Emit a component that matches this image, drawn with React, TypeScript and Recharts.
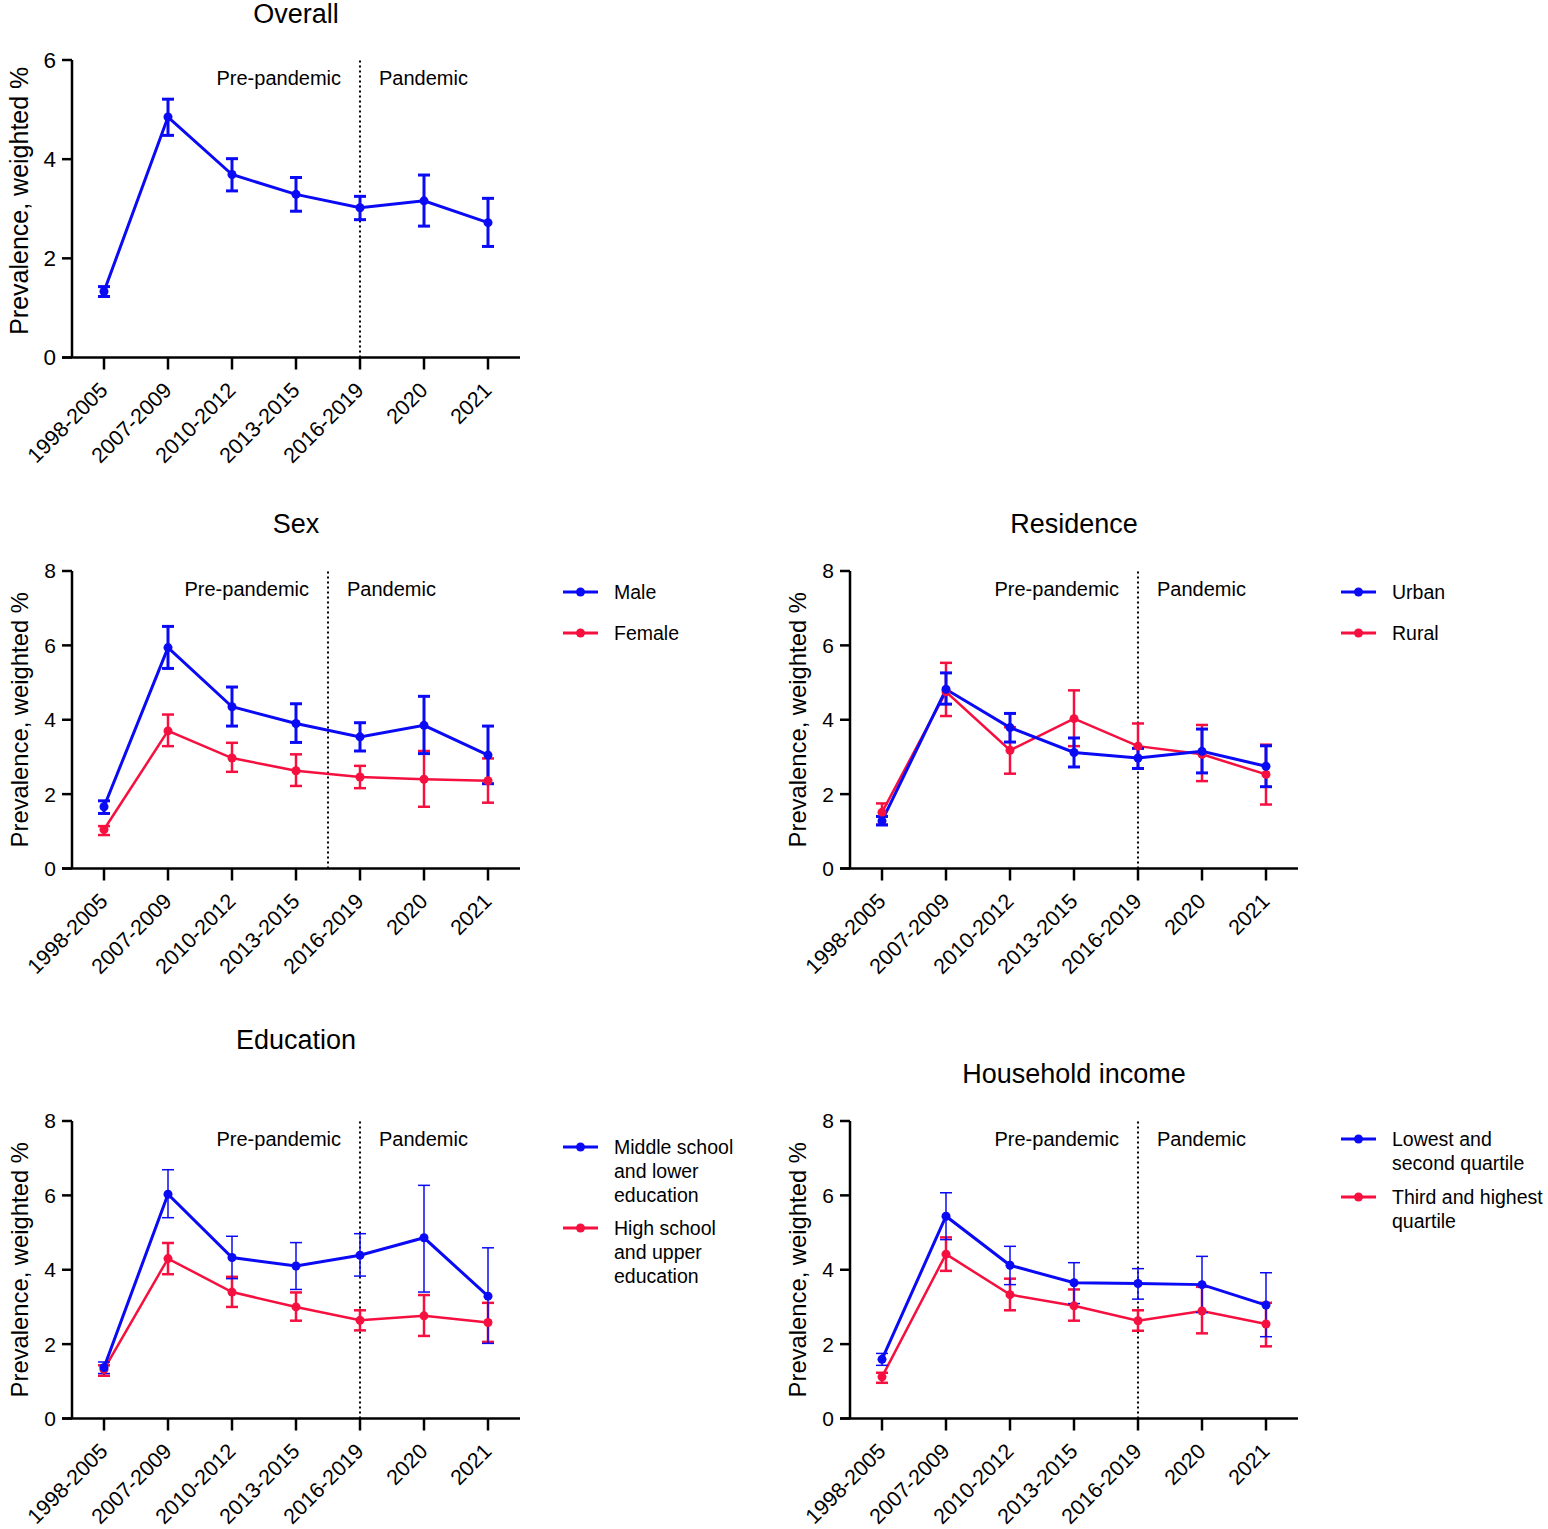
import { LineChart, Line, XAxis, YAxis, ErrorBar, ReferenceLine } from "recharts";

const FONT = "'Liberation Sans', Arial, sans-serif";
const BLUE = "#0a0af5";
const RED = "#f5103f";

const periods = ["1998-2005", "2007-2009", "2010-2012", "2013-2015", "2016-2019", "2020", "2021"];

const overall = [1.33, 4.85, 3.69, 3.29, 3.02, 3.16, 2.72];
const overallLo = [1.23, 4.48, 3.36, 2.95, 2.78, 2.65, 2.24];
const overallHi = [1.43, 5.21, 4.01, 3.63, 3.25, 3.68, 3.21];

const male = [1.66, 5.94, 4.35, 3.9, 3.54, 3.85, 3.05];
const maleLo = [1.48, 5.38, 3.83, 3.39, 3.16, 3.09, 2.28];
const maleHi = [1.82, 6.51, 4.88, 4.43, 3.92, 4.63, 3.83];
const female = [1.05, 3.7, 2.97, 2.63, 2.46, 2.4, 2.36];
const femaleLo = [0.9, 3.29, 2.6, 2.22, 2.16, 1.66, 1.77];
const femaleHi = [1.14, 4.14, 3.38, 3.07, 2.76, 3.16, 2.96];

const urban = [1.28, 4.82, 3.79, 3.12, 2.97, 3.15, 2.75];
const urbanLo = [1.17, 4.42, 3.4, 2.73, 2.69, 2.57, 2.2];
const urbanHi = [1.4, 5.26, 4.17, 3.51, 3.23, 3.75, 3.3];
const rural = [1.51, 4.75, 3.18, 4.03, 3.29, 3.07, 2.53];
const ruralLo = [1.18, 4.1, 2.55, 3.29, 2.69, 2.35, 1.72];
const ruralHi = [1.75, 5.53, 3.8, 4.79, 3.9, 3.86, 3.33];

const eduLow = [1.37, 6.03, 4.33, 4.1, 4.39, 4.86, 3.29];
const eduLowLo = [1.21, 5.4, 3.76, 3.47, 3.83, 3.4, 2.02];
const eduLowHi = [1.52, 6.69, 4.9, 4.73, 4.97, 6.27, 4.59];
const eduHigh = [1.32, 4.3, 3.4, 3.0, 2.64, 2.76, 2.58];
const eduHighLo = [1.15, 3.88, 3.0, 2.63, 2.37, 2.22, 2.06];
const eduHighHi = [1.43, 4.72, 3.81, 3.39, 2.91, 3.32, 3.11];

const incLow = [1.59, 5.44, 4.12, 3.65, 3.63, 3.6, 3.05];
const incLowLo = [1.43, 4.81, 3.6, 3.09, 3.21, 2.85, 2.2];
const incLowHi = [1.75, 6.07, 4.63, 4.19, 4.03, 4.36, 3.92];
const incHigh = [1.12, 4.42, 3.33, 3.03, 2.63, 2.89, 2.54];
const incHighLo = [0.96, 3.97, 2.91, 2.63, 2.36, 2.29, 1.94];
const incHighHi = [1.23, 4.87, 3.76, 3.47, 2.91, 3.54, 3.11];

interface Series {
  label: string[];
  color: string;
  values: number[];
  lo: number[];
  hi: number[];
  lineWidth: number;
  errWidth: number;
}

const PLOT_W = 448;
const PLOT_H = 297.5;
const TOP_PAD = 40;
const Y_AXIS_W = 72;
const BAND = PLOT_W / periods.length;

const XTick = (props: any) => {
  const { x, y, payload } = props;
  const ax = x + 5;
  const ay = y + 20;
  return (
    <text
      x={ax}
      y={ay}
      transform={`rotate(-45, ${ax}, ${ay})`}
      textAnchor="end"
      fontSize={21.5}
      fontFamily={FONT}
      fill="#000"
    >
      {periods[payload.value]}
    </text>
  );
};

const makeYLabel = (size: number, shift: number) => (p: any) => {
  const vb = p.viewBox || { x: 0, y: TOP_PAD, height: PLOT_H };
  const cx = vb.x + 19;
  const cy = vb.y + vb.height / 2 + shift;
  return (
    <text
      x={cx}
      y={cy}
      transform={`rotate(-90, ${cx}, ${cy})`}
      textAnchor="middle"
      dominantBaseline="central"
      fontSize={size}
      fontFamily={FONT}
      fill="#000"
    >
      Prevalence, weighted %
    </text>
  );
};

const phaseLabels = (p: any) => {
  const vb = p.viewBox || { x: 0, y: TOP_PAD };
  return (
    <g fontFamily={FONT} fontSize={20} fill="#000">
      <text x={vb.x - 19} y={vb.y + 25} textAnchor="end">Pre-pandemic</text>
      <text x={vb.x + 19} y={vb.y + 25} textAnchor="start">Pandemic</text>
    </g>
  );
};

function Panel({
  title, titleY, plotLeft, plotTop, yMax, yTicks, split, series, tickFont = 21, labelFont = 23.8, labelShift = 0,
}: {
  title: string; titleY: number; plotLeft: number; plotTop: number;
  yMax: number; yTicks: number[]; split: number; series: Series[];
  tickFont?: number; labelFont?: number; labelShift?: number;
}) {
  const rows = periods.map((_, i) => {
    const row: any = { idx: i };
    series.forEach((s, k) => {
      row["s" + k] = s.values[i];
      row["e" + k] = [s.values[i] - s.lo[i], s.hi[i] - s.values[i]];
    });
    return row;
  });
  const order = series.map((_, k) => k).reverse();
  const xMin = -0.5;
  return (
    <>
      <div
        style={{
          position: "absolute", left: plotLeft + PLOT_W / 2, top: titleY,
          transform: "translate(-50%, -50%)", fontFamily: FONT, fontSize: 27, lineHeight: "27px",
          whiteSpace: "nowrap", color: "#000",
        }}
      >
        {title}
      </div>
      <div style={{ position: "absolute", left: plotLeft - Y_AXIS_W, top: plotTop - TOP_PAD }}>
        <LineChart
          width={Y_AXIS_W + PLOT_W + 20}
          height={TOP_PAD + PLOT_H + 130}
          data={rows}
          margin={{ top: TOP_PAD, right: 20, bottom: 0, left: 0 }}
        >
          <XAxis
            dataKey="idx"
            type="number"
            domain={[xMin, periods.length - 0.5]}
            ticks={periods.map((_, i) => i)}
            interval={0}
            height={130}
            tickSize={12}
            axisLine={{ stroke: "#000", strokeWidth: 2.5 }}
            tickLine={{ stroke: "#000", strokeWidth: 2.5 }}
            tick={<XTick />}
          />
          <YAxis
            type="number"
            domain={[0, yMax]}
            ticks={yTicks}
            width={Y_AXIS_W}
            tickSize={10}
            tickMargin={6}
            axisLine={{ stroke: "#000", strokeWidth: 2.5 }}
            tickLine={{ stroke: "#000", strokeWidth: 2.5 }}
            tick={{ fontSize: tickFont, fill: "#000", fontFamily: FONT }}
            label={{ content: makeYLabel(labelFont, labelShift) }}
          />
          {/* x axis runs a little past the y axis, as in the original */}
          <ReferenceLine
            segment={[{ x: xMin - 10 / BAND, y: 0 }, { x: xMin, y: 0 }]}
            ifOverflow="visible"
            stroke="#000"
            strokeWidth={2.5}
          />
          <ReferenceLine
            x={split}
            stroke="#000"
            strokeWidth={2}
            strokeDasharray="2 3"
            label={{ content: phaseLabels }}
          />
          {order.map((k) => {
            const s = series[k];
            return (
              <Line
                key={k}
                dataKey={"s" + k}
                stroke={s.color}
                strokeWidth={s.lineWidth}
                dot={{ r: 4.5, fill: s.color, stroke: s.color, strokeWidth: 0 }}
                isAnimationActive={false}
              >
                <ErrorBar
                  dataKey={"e" + k}
                  direction="y"
                  width={6}
                  stroke={s.color}
                  strokeWidth={s.errWidth}
                />
              </Line>
            );
          })}
        </LineChart>
      </div>
    </>
  );
}

function LegendBox({ left, top, gap, series }: { left: number; top: number; gap: number; series: Series[] }) {
  return (
    <div
      style={{
        position: "absolute", left, top: top - 12, display: "flex", flexDirection: "column",
        gap, fontFamily: FONT, fontSize: 19.5, lineHeight: "24px", color: "#000",
      }}
    >
      {series.map((s, i) => (
        <div key={i} style={{ display: "flex", alignItems: "flex-start" }}>
          <svg width={51} height={24} style={{ flex: "none" }}>
            <line x1={0} x2={35} y1={12} y2={12} stroke={s.color} strokeWidth={3} />
            <circle cx={17.5} cy={12} r={4.5} fill={s.color} />
          </svg>
          <div style={{ whiteSpace: "nowrap" }}>
            {s.label.map((l, j) => (
              <div key={j}>{l}</div>
            ))}
          </div>
        </div>
      ))}
    </div>
  );
}

const overallSeries: Series[] = [
  { label: ["Overall"], color: BLUE, values: overall, lo: overallLo, hi: overallHi, lineWidth: 3, errWidth: 3 },
];
const sexSeries: Series[] = [
  { label: ["Male"], color: BLUE, values: male, lo: maleLo, hi: maleHi, lineWidth: 3, errWidth: 3 },
  { label: ["Female"], color: RED, values: female, lo: femaleLo, hi: femaleHi, lineWidth: 2.5, errWidth: 2.5 },
];
const resSeries: Series[] = [
  { label: ["Urban"], color: BLUE, values: urban, lo: urbanLo, hi: urbanHi, lineWidth: 3, errWidth: 3 },
  { label: ["Rural"], color: RED, values: rural, lo: ruralLo, hi: ruralHi, lineWidth: 2.5, errWidth: 2.5 },
];
const eduSeries: Series[] = [
  { label: ["Middle school", "and lower", "education"], color: BLUE, values: eduLow, lo: eduLowLo, hi: eduLowHi, lineWidth: 3, errWidth: 1.5 },
  { label: ["High school", "and upper", "education"], color: RED, values: eduHigh, lo: eduHighLo, hi: eduHighHi, lineWidth: 2.5, errWidth: 2.5 },
];
const incSeries: Series[] = [
  { label: ["Lowest and", "second quartile"], color: BLUE, values: incLow, lo: incLowLo, hi: incLowHi, lineWidth: 3, errWidth: 1.5 },
  { label: ["Third and highest", "quartile"], color: RED, values: incHigh, lo: incHighLo, hi: incHighHi, lineWidth: 2.5, errWidth: 2.5 },
];

export default function App() {
  return (
    <div style={{ position: "absolute", left: 0, top: 0, width: 1548, height: 1529, background: "#fff", overflow: "hidden" }}>
      <Panel title="Overall" titleY={14} plotLeft={72} plotTop={60} yMax={6} yTicks={[0, 2, 4, 6]} split={4} series={overallSeries} tickFont={22.5} labelFont={25} labelShift={-8} />
      <Panel title="Sex" titleY={524} plotLeft={72} plotTop={571} yMax={8} yTicks={[0, 2, 4, 6, 8]} split={3.5} series={sexSeries} />
      <Panel title="Residence" titleY={524} plotLeft={850} plotTop={571} yMax={8} yTicks={[0, 2, 4, 6, 8]} split={4} series={resSeries} />
      <Panel title="Education" titleY={1040} plotLeft={72} plotTop={1121} yMax={8} yTicks={[0, 2, 4, 6, 8]} split={4} series={eduSeries} />
      <Panel title="Household income" titleY={1074} plotLeft={850} plotTop={1121} yMax={8} yTicks={[0, 2, 4, 6, 8]} split={4} series={incSeries} />
      <LegendBox left={563} top={592} gap={17} series={sexSeries} />
      <LegendBox left={1341} top={592} gap={17} series={resSeries} />
      <LegendBox left={563} top={1147} gap={9} series={eduSeries} />
      <LegendBox left={1341} top={1139} gap={10} series={incSeries} />
    </div>
  );
}
